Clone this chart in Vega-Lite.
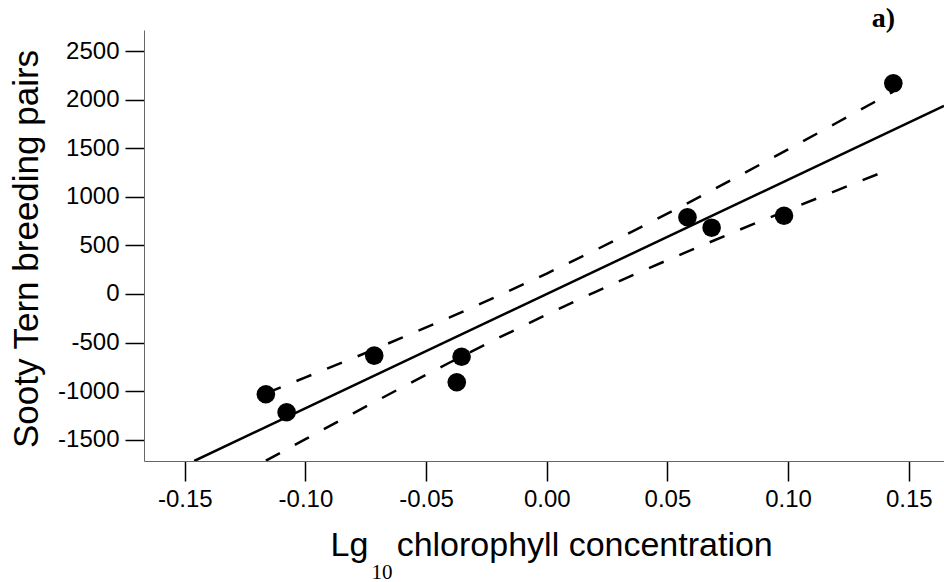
{
  "$schema": "https://vega.github.io/schema/vega-lite/v6.json",
  "width": 800,
  "height": 431,
  "autosize": {"type": "none"},
  "padding": {"left": 144, "top": 30, "right": 0, "bottom": 121},
  "background": "white",
  "config": {
    "view": {"stroke": null},
    "axis": {"labelFont": "Liberation Sans", "titleFont": "Liberation Sans", "grid": false}
  },
  "title": {
    "text": "a)",
    "anchor": "end",
    "font": "Liberation Serif",
    "fontWeight": "bold",
    "fontSize": 28,
    "color": "black",
    "dx": -49,
    "offset": -25,
    "baseline": "alphabetic"
  },
  "datasets": {
    "fit": [
      {"x": -0.1461, "y": -1720},
      {"x": 0.1646, "y": 1938}
    ],
    "bands": [
      {"x": -0.1164, "y": -1023, "band": "upper"},
      {"x": -0.10, "y": -859, "band": "upper"},
      {"x": -0.08, "y": -658, "band": "upper"},
      {"x": -0.06, "y": -450, "band": "upper"},
      {"x": -0.04, "y": -239, "band": "upper"},
      {"x": -0.02, "y": -18, "band": "upper"},
      {"x": 0.00, "y": 211, "band": "upper"},
      {"x": 0.02, "y": 450, "band": "upper"},
      {"x": 0.04, "y": 700, "band": "upper"},
      {"x": 0.06, "y": 957, "band": "upper"},
      {"x": 0.08, "y": 1221, "band": "upper"},
      {"x": 0.10, "y": 1489, "band": "upper"},
      {"x": 0.12, "y": 1761, "band": "upper"},
      {"x": 0.1436, "y": 2084, "band": "upper"},
      {"x": -0.1164, "y": -1717, "band": "lower"},
      {"x": -0.10, "y": -1495, "band": "lower"},
      {"x": -0.08, "y": -1226, "band": "lower"},
      {"x": -0.06, "y": -962, "band": "lower"},
      {"x": -0.04, "y": -703, "band": "lower"},
      {"x": -0.02, "y": -452, "band": "lower"},
      {"x": 0.00, "y": -211, "band": "lower"},
      {"x": 0.02, "y": 20, "band": "lower"},
      {"x": 0.04, "y": 242, "band": "lower"},
      {"x": 0.06, "y": 455, "band": "lower"},
      {"x": 0.08, "y": 663, "band": "lower"},
      {"x": 0.10, "y": 865, "band": "lower"},
      {"x": 0.12, "y": 1065, "band": "lower"},
      {"x": 0.1436, "y": 1298, "band": "lower"}
    ],
    "points": [
      {"x": -0.1164, "y": -1033},
      {"x": -0.1078, "y": -1218},
      {"x": -0.0715, "y": -635},
      {"x": -0.0373, "y": -909},
      {"x": -0.0353, "y": -646},
      {"x": 0.0583, "y": 790},
      {"x": 0.0683, "y": 683},
      {"x": 0.0983, "y": 806},
      {"x": 0.1436, "y": 2170}
    ]
  },
  "layer": [
    {
      "data": {"name": "fit"},
      "mark": {"type": "line", "color": "black", "strokeWidth": 2.5, "clip": true},
      "encoding": {
        "x": {
          "field": "x", "type": "quantitative",
          "scale": {"domain": [-0.1669, 0.1646], "nice": false, "zero": false},
          "axis": {
            "orient": "bottom",
            "values": [-0.15, -0.10, -0.05, 0.00, 0.05, 0.10, 0.15],
            "format": ".2f",
            "labelExpr": "replace(datum.label, '\u2212', '-')",
            "domainColor": "#666666",
            "domainWidth": 1,
            "tickColor": "black",
            "tickWidth": 1.5,
            "tickSize": 20,
            "labelFontSize": 24,
            "labelColor": "black",
            "labelPadding": 6,
            "title": "Lg\u00a0\u00a0\u00a0chlorophyll concentration",
            "titleFontSize": 34,
            "titleFontWeight": "normal",
            "titleColor": "black",
            "titleAlign": "left",
            "titleBaseline": "alphabetic",
            "titleX": 186,
            "titleY": 94
          }
        },
        "y": {
          "field": "y", "type": "quantitative",
          "scale": {"domain": [-1720, 2719], "nice": false, "zero": false},
          "axis": {
            "orient": "left",
            "values": [-1500, -1000, -500, 0, 500, 1000, 1500, 2000, 2500],
            "format": "d",
            "labelExpr": "replace(datum.label, '\u2212', '-')",
            "domainColor": "#666666",
            "domainWidth": 1,
            "tickColor": "black",
            "tickWidth": 1.5,
            "tickSize": 19,
            "labelFontSize": 24,
            "labelColor": "black",
            "labelPadding": 6,
            "title": "Sooty Tern breeding pairs",
            "titleFontSize": 35,
            "titleFontWeight": "normal",
            "titleColor": "black",
            "titleAngle": -90,
            "titleAlign": "center",
            "titleBaseline": "alphabetic",
            "titleX": -107,
            "titleY": 218.5
          }
        }
      }
    },
    {
      "data": {"name": "bands"},
      "mark": {"type": "line", "color": "black", "strokeWidth": 2.5, "strokeDash": [16, 17], "clip": true},
      "encoding": {
        "x": {"field": "x", "type": "quantitative", "scale": {"domain": [-0.1669, 0.1646], "nice": false, "zero": false}, "axis": null},
        "y": {"field": "y", "type": "quantitative", "scale": {"domain": [-1720, 2719], "nice": false, "zero": false}},
        "detail": {"field": "band", "type": "nominal"}
      }
    },
    {
      "data": {"name": "points"},
      "mark": {"type": "circle", "color": "black", "opacity": 1, "size": 346},
      "encoding": {
        "x": {
          "field": "x", "type": "quantitative",
          "scale": {"domain": [-0.1669, 0.1646], "nice": false, "zero": false},
          "axis": {
            "orient": "bottom",
            "domain": false,
            "ticks": false,
            "labels": false,
            "title": "10",
            "titleFont": "Liberation Serif",
            "titleFontSize": 21,
            "titleFontWeight": "normal",
            "titleColor": "black",
            "titleAlign": "center",
            "titleBaseline": "alphabetic",
            "titleX": 237.5,
            "titleY": 117
          }
        },
        "y": {"field": "y", "type": "quantitative", "scale": {"domain": [-1720, 2719], "nice": false, "zero": false}}
      }
    }
  ],
  "resolve": {"axis": {"x": "independent"}}
}
